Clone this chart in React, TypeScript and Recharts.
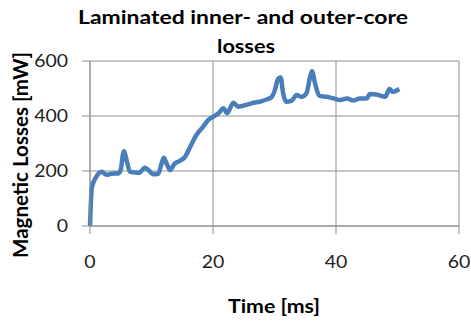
import React from "react";
import { LineChart, Line, XAxis, YAxis, CartesianGrid } from "recharts";

const timeMs = [0, 0.3, 1, 1.9, 2.7, 3.5, 4.6, 5, 5.5, 6, 6.5, 7.3, 8, 8.9, 9.5, 10.3, 11.1, 11.6, 12, 12.5, 13, 13.7, 14.6, 15.4, 16.3, 17.3, 18.4, 19.2, 20, 20.9, 21.7, 22.3, 23.3, 24.1, 25.5, 26.6, 27.6, 28.7, 29.5, 30, 30.6, 31, 31.4, 31.9, 32.8, 33.6, 34.4, 35.2, 35.8, 36.1, 36.6, 37.3, 38.5, 39.6, 40.7, 41.8, 42.8, 43.9, 45, 45.5, 46.6, 48, 48.7, 49.2, 49.6, 50.3];
const lossesMw = [0, 140, 178, 197, 186, 190, 191, 205, 272, 235, 197, 195, 193, 212, 203, 188, 190, 225, 248, 225, 203, 225, 237, 250, 288, 331, 361, 385, 397, 410, 428, 410, 448, 434, 441, 448, 452, 460, 468, 490, 535, 540, 483, 452, 456, 476, 470, 483, 543, 563, 518, 473, 470, 464, 458, 464, 456, 464, 464, 480, 478, 470, 498, 488, 490, 498];
const xTicks = [0, 20, 40, 60];
const yTicks = [0, 200, 400, 600];
const titleLines = ["Laminated inner- and outer-core", "losses"];
const xLabel = "Time [ms]";
const yLabel = "Magnetic Losses [mW]";

const data = timeMs.map((t, i) => ({ t, v: lossesMw[i] }));

const FONT = "Lato, 'Open Sans', sans-serif";
const SX = 1.18;

const XTick = (props: any) => {
  const { x, y, payload } = props;
  return (
    <text
      x={x}
      y={y + 10}
      textAnchor="middle"
      fontFamily={FONT}
      fontSize={16.5}
      fill="#222"
      transform={`translate(${x},0) scale(${SX},1) translate(${-x},0)`}
    >
      {payload.value}
    </text>
  );
};

const YTick = (props: any) => {
  const { x, y, payload } = props;
  return (
    <text
      x={x}
      y={y + 6}
      textAnchor="end"
      fontFamily={FONT}
      fontSize={16.5}
      fill="#222"
      transform={`translate(${x},0) scale(${SX},1) translate(${-x},0)`}
    >
      {payload.value}
    </text>
  );
};

export default function App() {
  return (
    <div style={{ position: "absolute", left: 0, top: 0, width: 471, height: 322, background: "#fff" }}>
      <LineChart width={471} height={322} data={data} margin={{ top: 61, right: 12, bottom: 66, left: 0 }}>
        <CartesianGrid stroke="#8f8f8f" strokeWidth={1} />
        <XAxis
          dataKey="t"
          type="number"
          domain={[0, 60]}
          ticks={xTicks}
          tickSize={8}
          tickMargin={24}
          height={30}
          stroke="#8f8f8f"
          tick={<XTick />}
          interval={0}
        />
        <YAxis
          type="number"
          domain={[0, 600]}
          ticks={yTicks}
          tickSize={8}
          tickMargin={14}
          width={90}
          stroke="#8f8f8f"
          tick={<YTick />}
          interval={0}
        />
        <Line
          dataKey="v"
          type="monotone"
          stroke="#4a7ebb"
          strokeWidth={4.5}
          dot={false}
          isAnimationActive={false}
        />
      </LineChart>
      <svg width={471} height={322} style={{ position: "absolute", left: 0, top: 0, pointerEvents: "none" }}>
        <text x={243} y={23.5} textAnchor="middle" fontFamily={FONT} fontWeight="bold" fontSize={18.5} fill="#000" textLength={330} lengthAdjust="spacingAndGlyphs">
          {titleLines[0]}
        </text>
        <text x={246} y={53} textAnchor="middle" fontFamily={FONT} fontWeight="bold" fontSize={18.5} fill="#000" textLength={58} lengthAdjust="spacingAndGlyphs">
          {titleLines[1]}
        </text>
        <text x={274} y={312.5} textAnchor="middle" fontFamily={FONT} fontWeight="bold" fontSize={18.5} fill="#000" textLength={92} lengthAdjust="spacingAndGlyphs">
          {xLabel}
        </text>
        <text
          x={0}
          y={0}
          textAnchor="middle"
          fontFamily={FONT}
          fontWeight="bold"
          fontSize={18}
          fill="#000"
          textLength={206}
          lengthAdjust="spacingAndGlyphs"
          transform={`translate(28.3,155) scale(${SX},1) rotate(-90)`}
        >
          {yLabel}
        </text>
      </svg>
    </div>
  );
}
